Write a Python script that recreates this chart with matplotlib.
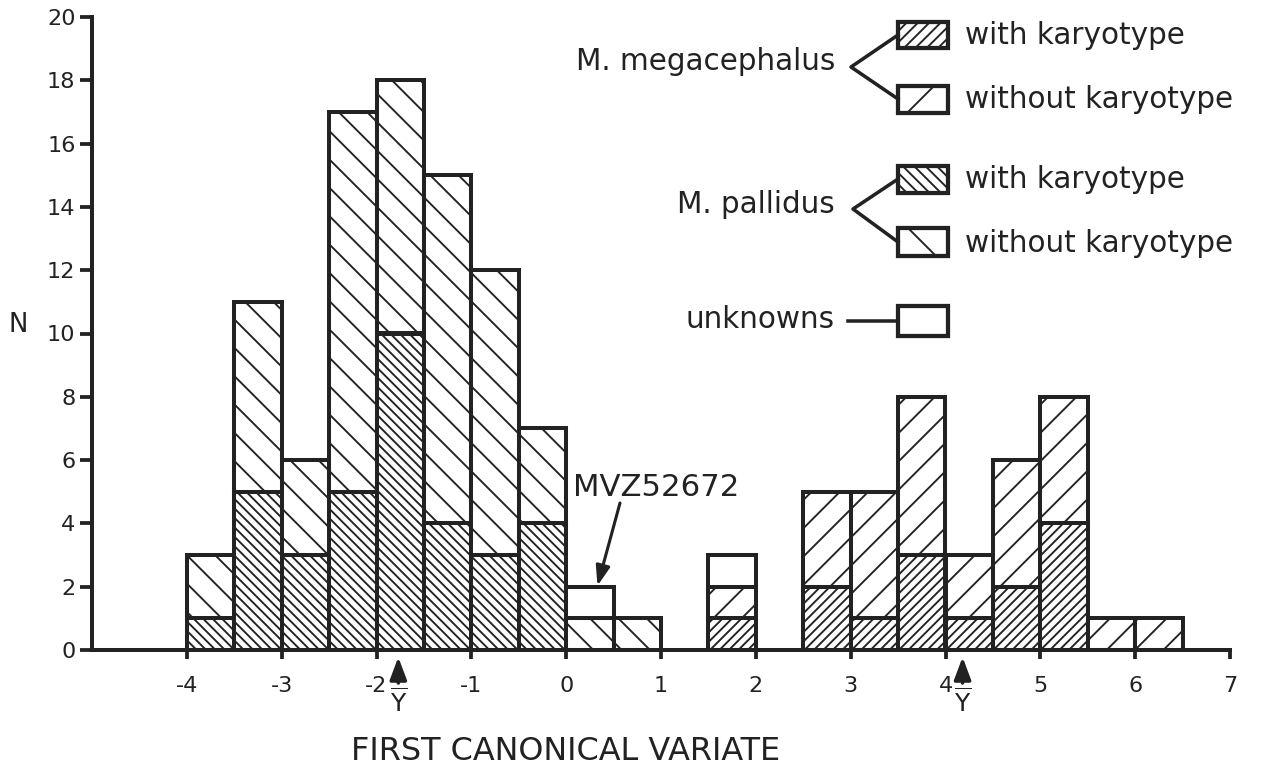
import matplotlib
matplotlib.use("Agg")
import matplotlib.pyplot as plt
from matplotlib.patches import Rectangle
from matplotlib.lines import Line2D
import numpy as np

plt.rcParams['font.family'] = ['DejaVu Sans']
plt.rcParams['hatch.linewidth'] = 0.8

# ---------------- data ----------------
bin_lefts = [-4.0, -3.5, -3.0, -2.5, -2.0, -1.5, -1.0, -0.5, 0.0, 0.5, 1.0,
             1.5, 2.0, 2.5, 3.0, 3.5, 4.0, 4.5, 5.0, 5.5, 6.0]
bin_width = 0.5
pallidus_with = [1, 5, 3, 5, 10, 4, 3, 4, 0, 0, 0, 0, 0, 0, 0, 0, 0, 0, 0, 0, 0]
pallidus_without = [2, 6, 3, 12, 8, 11, 9, 3, 1, 1, 0, 0, 0, 0, 0, 0, 0, 0, 0, 0, 0]
mega_with = [0, 0, 0, 0, 0, 0, 0, 0, 0, 0, 0, 1, 0, 2, 1, 3, 1, 2, 4, 0, 0]
mega_without = [0, 0, 0, 0, 0, 0, 0, 0, 0, 0, 0, 1, 0, 3, 4, 5, 2, 4, 4, 1, 1]
unknowns = [0, 0, 0, 0, 0, 0, 0, 0, 1, 0, 0, 1, 0, 0, 0, 0, 0, 0, 0, 0, 0]
x_ticks = [-4, -3, -2, -1, 0, 1, 2, 3, 4, 5, 6, 7]
y_ticks = [0, 2, 4, 6, 8, 10, 12, 14, 16, 18, 20]
ybar_positions = [-1.77, 4.18]
mvz_value = 0.33
mvz_height = 2

# ---------------- figure ----------------
DPI = 170
W, H = 1281, 770
fig = plt.figure(figsize=(W / DPI, H / DPI), dpi=DPI)
fig.patch.set_facecolor('white')

def fx(px):
    return px / W

def fy(py):
    return 1 - py / H

ax = fig.add_axes([fx(92), fy(650), fx(1230) - fx(92), fy(17) - fy(650)])
ax.set_xlim(-5, 7)
ax.set_ylim(0, 20)

lefts = np.array(bin_lefts)
EDGE_LW = 1.7
TC = '#222222'

HATCH_PAL_WITH = '\\' * 6
HATCH_PAL_WITHOUT = '\\' * 2
HATCH_MEGA_WITH = '/' * 6
HATCH_MEGA_WITHOUT = '/' * 2

def draw_layer(values, bottoms, hatch):
    v = np.array(values, dtype=float)
    m = v > 0
    ax.bar(lefts[m], v[m], width=bin_width, bottom=bottoms[m], align='edge',
           facecolor='white', edgecolor=TC, linewidth=EDGE_LW,
           hatch=hatch, zorder=2)
    return bottoms + v

base = np.zeros(len(lefts))
base = draw_layer(pallidus_with, base, HATCH_PAL_WITH)
base = draw_layer(pallidus_without, base, HATCH_PAL_WITHOUT)
base2 = np.zeros(len(lefts))
base2 = draw_layer(mega_with, base2, HATCH_MEGA_WITH)
base2 = draw_layer(mega_without, base2, HATCH_MEGA_WITHOUT)
total = base + base2
draw_layer(unknowns, total, None)

# spines
for s in ['top', 'right']:
    ax.spines[s].set_visible(False)
for s in ['left', 'bottom']:
    ax.spines[s].set_linewidth(1.7)
    ax.spines[s].set_color(TC)
    ax.spines[s].set_zorder(3)
ax.set_xticks(x_ticks)
ax.set_xticklabels([str(t) for t in x_ticks])
ax.set_yticks(y_ticks)
ax.set_yticklabels([str(t) for t in y_ticks])
ax.tick_params(axis='x', direction='out', length=4, width=1.6, pad=7, labelsize=9.5,
               color=TC, labelcolor=TC)
ax.tick_params(axis='y', direction='out', length=5, width=1.6, pad=2, labelsize=9.5,
               color=TC, labelcolor=TC)

# axis labels
fig.text(fx(18), fy(325), 'N', fontsize=11, ha='center', va='center', color=TC)
fig.text(fx(566), fy(752), 'FIRST CANONICAL VARIATE', fontsize=13.5,
         ha='center', va='center', color=TC)

# Y-bar arrows
for xv in ybar_positions:
    ax.annotate('', xy=(xv, 0), xycoords=('data', 'axes fraction'),
                xytext=(0, -33), textcoords='offset pixels',
                arrowprops=dict(arrowstyle='-|>,head_length=0.8,head_width=0.3',
                                color=TC, lw=1.5, shrinkA=0, shrinkB=3),
                annotation_clip=False)
    ax.annotate(r'$\overline{\mathrm{Y}}$', xy=(xv, 0), xycoords=('data', 'axes fraction'),
                xytext=(0, -52), textcoords='offset pixels', ha='center', va='center',
                fontsize=10.5, color=TC, annotation_clip=False)

# MVZ label
fig.text(fx(573), fy(487), 'MVZ52672', ha='left', va='center', fontsize=13, color=TC)
ax.annotate('', xy=(mvz_value, mvz_height + 0.03), xytext=(620, H - 503),
            textcoords='figure pixels',
            arrowprops=dict(arrowstyle='-|>,head_length=0.7,head_width=0.25',
                            color=TC, lw=1.3, shrinkA=0, shrinkB=0))

# ---------------- legend ----------------
def box(x0, y0, x1, y1, hatch):
    r = Rectangle((fx(x0), fy(y1)), fx(x1) - fx(x0), fy(y0) - fy(y1),
                  transform=fig.transFigure, facecolor='white', edgecolor=TC,
                  linewidth=1.8, hatch=hatch, zorder=5)
    fig.add_artist(r)

def line(xs, ys, lw=1.5):
    fig.add_artist(Line2D([fx(x) for x in xs], [fy(y) for y in ys],
                          transform=fig.transFigure, color=TC, lw=lw, zorder=5))

BX0, BX1 = 898, 948
TX = 965
FS = 12.5
# megacephalus
box(BX0, 22, BX1, 48, '/' * 5)
box(BX0, 86, BX1, 113, '/')
line([BX0, 851, BX0], [35, 67, 99])
fig.text(fx(835), fy(62), 'M. megacephalus', ha='right', va='center', fontsize=FS, color=TC)
fig.text(fx(TX), fy(35), 'with karyotype', ha='left', va='center', fontsize=FS, color=TC)
fig.text(fx(TX), fy(100), 'without karyotype', ha='left', va='center', fontsize=FS, color=TC)
# pallidus
box(BX0, 166, BX1, 193, '\\' * 5)
box(BX0, 228, BX1, 256, '\\')
line([BX0, 853, BX0], [179, 209, 242])
fig.text(fx(835), fy(205), 'M. pallidus', ha='right', va='center', fontsize=FS, color=TC)
fig.text(fx(TX), fy(180), 'with karyotype', ha='left', va='center', fontsize=FS, color=TC)
fig.text(fx(TX), fy(243), 'without karyotype', ha='left', va='center', fontsize=FS, color=TC)
# unknowns
box(BX0, 306, BX1, 336, None)
line([848, BX0], [321, 321])
fig.text(fx(835), fy(320), 'unknowns', ha='right', va='center', fontsize=FS, color=TC)

fig.savefig('out.png', dpi=DPI, facecolor='white')
